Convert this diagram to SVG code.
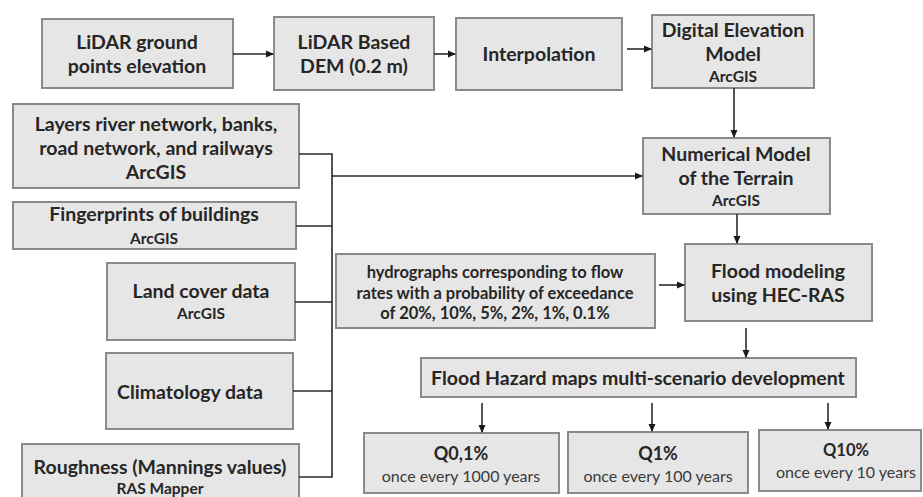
<svg xmlns="http://www.w3.org/2000/svg" width="923" height="497" viewBox="0 0 923 497">
<style>
.box{fill:#e6e6e6;stroke:#8a8a8a;stroke-width:2}
text{font-family:Lato,"Liberation Sans",sans-serif;fill:#262626;text-anchor:middle}
.b{font-weight:bold;font-size:19.5px}
.s{font-weight:bold;font-size:15.5px}
.h{font-weight:bold;font-size:16.5px}
.n{font-weight:normal;font-size:16px;fill:#3a3a3a}
.q{font-weight:bold;font-size:18px}
.con{fill:none;stroke:#2a2a2a;stroke-width:1.6}
</style>
<defs>
<marker id="ah" markerWidth="8" markerHeight="8" refX="7" refY="4" orient="auto" markerUnits="userSpaceOnUse">
<path d="M0,0.5 L8,4 L0,7.5 Z" fill="#1a1a1a"/>
</marker>
</defs>
<rect width="923" height="497" fill="#ffffff"/>

<g id="n-lidar-ground">
<rect class="box" x="42" y="19" width="191" height="69"/>
<text class="b" x="137" y="49">LiDAR ground</text>
<text class="b" x="137" y="73">points elevation</text>
</g>
<g id="n-lidar-dem">
<rect class="box" x="274" y="17" width="160" height="73"/>
<text class="b" x="354" y="49">LiDAR Based</text>
<text class="b" x="354" y="73">DEM (0.2 m)</text>
</g>
<g id="n-interp">
<rect class="box" x="456" y="18" width="166" height="72"/>
<text class="b" x="539" y="61">Interpolation</text>
</g>
<g id="n-dem">
<rect class="box" x="652" y="15" width="162" height="73"/>
<text class="b" x="733" y="37">Digital Elevation</text>
<text class="b" x="733" y="61">Model</text>
<text class="s" x="733" y="82">ArcGIS</text>
</g>
<g id="n-numerical">
<rect class="box" x="643" y="138" width="187" height="76"/>
<text class="b" x="736" y="161">Numerical Model</text>
<text class="b" x="736" y="185">of the Terrain</text>
<text class="s" x="736" y="206">ArcGIS</text>
</g>
<g id="n-flood-model">
<rect class="box" x="685" y="244" width="187" height="77"/>
<text class="b" x="778" y="278">Flood modeling</text>
<text class="b" x="778" y="302">using HEC-RAS</text>
</g>
<g id="n-hydro">
<rect class="box" x="336" y="254" width="319" height="74"/>
<text class="h" x="495" y="278">hydrographs corresponding to flow</text>
<text class="h" x="495" y="299">rates with a probability of exceedance</text>
<text class="h" x="495" y="319">of 20%, 10%, 5%, 2%, 1%, 0.1%</text>
</g>
<g id="n-layers">
<rect class="box" x="13" y="104" width="286" height="84"/>
<text class="b" x="156" y="131">Layers river network, banks,</text>
<text class="b" x="156" y="155">road network, and railways</text>
<text class="b" x="156" y="179">ArcGIS</text>
</g>
<g id="n-fingerprints">
<rect class="box" x="13" y="202" width="283" height="47"/>
<text class="b" x="154" y="221">Fingerprints of buildings</text>
<text class="s" x="154" y="244">ArcGIS</text>
</g>
<g id="n-landcover">
<rect class="box" x="107" y="263" width="188" height="77"/>
<text class="b" x="201" y="298">Land cover data</text>
<text class="s" x="201" y="319">ArcGIS</text>
</g>
<g id="n-climate">
<rect class="box" x="106" y="353" width="187" height="76"/>
<text class="b" x="117" y="399" style="text-anchor:start">Climatology data</text>
</g>
<g id="n-roughness">
<rect class="box" x="22" y="444" width="277" height="60"/>
<text class="b" x="160" y="474">Roughness (Mannings values)</text>
<text class="s" x="160" y="494">RAS Mapper</text>
</g>
<g id="n-hazard">
<rect class="box" x="421" y="358" width="435" height="39"/>
<text class="b" x="638" y="385">Flood Hazard maps multi-scenario development</text>
</g>
<g id="n-q01">
<rect class="box" x="364" y="433" width="195" height="60"/>
<text class="q" x="461" y="460">Q0,1%</text>
<text class="n" x="461" y="482">once every 1000 years</text>
</g>
<g id="n-q1">
<rect class="box" x="568" y="432" width="180" height="61"/>
<text class="q" x="658" y="460">Q1%</text>
<text class="n" x="658" y="482">once every 100 years</text>
</g>
<g id="n-q10">
<rect class="box" x="759" y="430" width="162" height="61"/>
<text class="h" x="846" y="456">Q10%</text>
<text class="n" x="846" y="478">once every 10 years</text>
</g>

<g id="connectors">
<line class="con" x1="233" y1="54" x2="273" y2="54" marker-end="url(#ah)"/>
<line class="con" x1="434" y1="54" x2="455" y2="54" marker-end="url(#ah)"/>
<line class="con" x1="627" y1="49" x2="651" y2="49" marker-end="url(#ah)"/>
<line class="con" x1="734" y1="88" x2="734" y2="137" marker-end="url(#ah)"/>
<line class="con" x1="737" y1="214" x2="737" y2="243" marker-end="url(#ah)"/>
<line class="con" x1="659" y1="285" x2="684" y2="285" marker-end="url(#ah)"/>
<line class="con" x1="746" y1="328" x2="746" y2="357" marker-end="url(#ah)"/>
<line class="con" x1="482" y1="403" x2="482" y2="432" marker-end="url(#ah)"/>
<line class="con" x1="652" y1="403" x2="652" y2="431" marker-end="url(#ah)"/>
<line class="con" x1="828" y1="403" x2="828" y2="429" marker-end="url(#ah)"/>
<polyline class="con" points="299,154 332,154 332,477 299,477"/>
<line class="con" x1="296" y1="226" x2="332" y2="226"/>
<line class="con" x1="295" y1="302" x2="332" y2="302"/>
<line class="con" x1="293" y1="391" x2="332" y2="391"/>
<line class="con" x1="332" y1="176" x2="642" y2="176" marker-end="url(#ah)"/>
</g>
</svg>
